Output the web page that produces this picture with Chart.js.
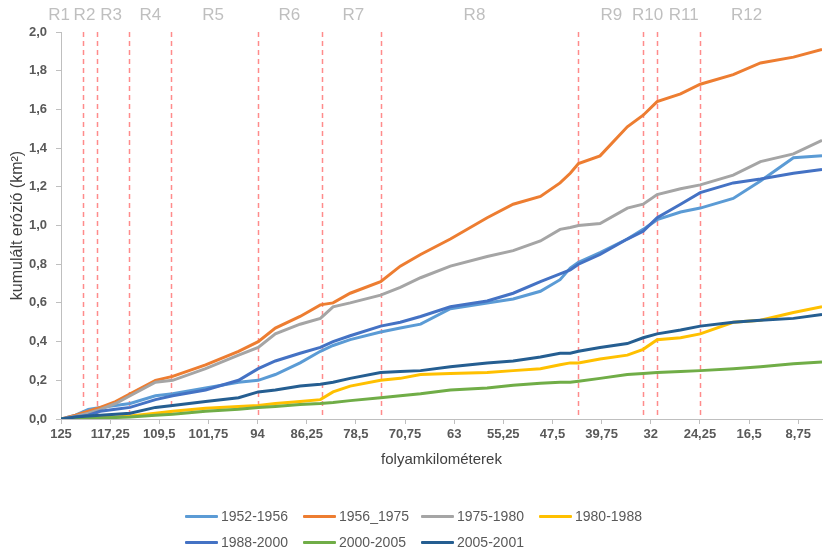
<!DOCTYPE html>
<html>
<head>
<meta charset="utf-8">
<script src="https://cdn.jsdelivr.net/npm/chart.js@4.4.1/dist/chart.umd.min.js"></script>
<style>
  body { margin: 0; background: #fff; }
  #wrap { position: relative; width: 823px; height: 553px; }
  #legend {
    position: absolute; left: 185px; top: 503px;
    display: grid; grid-template-columns: repeat(4, 118px); grid-auto-rows: 26px;
    font-family: 'Liberation Sans', Arial, sans-serif; font-size: 14px; color: #595959;
  }
  #legend .item { display: flex; align-items: center; white-space: nowrap; }
  #legend .swatch { width: 33px; height: 3px; margin-right: 3px; border-radius: 1px; }
</style>
</head>
<body>
<div id="wrap">
  <canvas id="chart" width="823" height="553"></canvas>
  <div id="legend"></div>
</div>
<script>
// folyamkilométer positions
const km = [125.0, 122.7, 120.7, 118.8, 116.4, 114.1, 110.1, 107.4, 102.2, 97.0,
            93.9, 91.2, 87.3, 84.1, 82.1, 79.4, 74.6, 71.5, 68.3, 63.6,
            57.8, 53.7, 49.4, 46.3, 44.7, 43.4, 40.0, 35.7, 33.2, 31.0,
            27.3, 24.2, 19.0, 14.7, 9.5, 5.0];

const s1952_1956 = [0, 0.02, 0.05, 0.06, 0.07, 0.08, 0.12, 0.13, 0.16, 0.19,
                    0.20, 0.23, 0.29, 0.35, 0.38, 0.41, 0.45, 0.47, 0.49, 0.57,
                    0.60, 0.62, 0.66, 0.72, 0.78, 0.81, 0.86, 0.93, 0.98, 1.03,
                    1.07, 1.09, 1.14, 1.23, 1.35, 1.36];
const s1956_1975 = [0, 0.02, 0.04, 0.06, 0.09, 0.13, 0.20, 0.22, 0.28, 0.35,
                    0.40, 0.47, 0.53, 0.59, 0.60, 0.65, 0.71, 0.79, 0.85, 0.93,
                    1.04, 1.11, 1.15, 1.22, 1.27, 1.32, 1.36, 1.51, 1.57, 1.64,
                    1.68, 1.73, 1.78, 1.84, 1.87, 1.91];
const s1975_1980 = [0, 0.015, 0.03, 0.05, 0.08, 0.12, 0.19, 0.20, 0.26, 0.33,
                    0.37, 0.44, 0.49, 0.52, 0.58, 0.60, 0.64, 0.68, 0.73, 0.79,
                    0.84, 0.87, 0.92, 0.98, 0.99, 1.00, 1.01, 1.09, 1.11, 1.16,
                    1.19, 1.21, 1.26, 1.33, 1.37, 1.44];
const s1980_1988 = [0, 0.005, 0.01, 0.01, 0.01, 0.015, 0.03, 0.04, 0.055, 0.065,
                    0.07, 0.08, 0.09, 0.10, 0.14, 0.17, 0.20, 0.21, 0.23, 0.235,
                    0.24, 0.25, 0.26, 0.28, 0.29, 0.29, 0.31, 0.33, 0.36, 0.41,
                    0.42, 0.44, 0.50, 0.51, 0.55, 0.58];
const s1988_2000 = [0, 0.01, 0.02, 0.04, 0.05, 0.06, 0.10, 0.12, 0.15, 0.20,
                    0.26, 0.30, 0.34, 0.37, 0.40, 0.43, 0.48, 0.50, 0.53, 0.58,
                    0.61, 0.65, 0.71, 0.75, 0.77, 0.80, 0.85, 0.93, 0.97, 1.04,
                    1.11, 1.17, 1.22, 1.24, 1.27, 1.29];
const s2000_2005 = [0, 0, 0.003, 0.005, 0.008, 0.01, 0.02, 0.025, 0.04, 0.05,
                    0.06, 0.065, 0.075, 0.08, 0.085, 0.095, 0.11, 0.12, 0.13, 0.15,
                    0.16, 0.175, 0.185, 0.19, 0.19, 0.195, 0.21, 0.23, 0.235, 0.24,
                    0.245, 0.25, 0.26, 0.27, 0.285, 0.295];
const s2005_2001 = [0, 0.01, 0.015, 0.02, 0.025, 0.03, 0.06, 0.07, 0.09, 0.11,
                    0.14, 0.15, 0.17, 0.18, 0.19, 0.21, 0.24, 0.245, 0.25, 0.27,
                    0.29, 0.30, 0.32, 0.34, 0.34, 0.35, 0.37, 0.39, 0.42, 0.44,
                    0.46, 0.48, 0.50, 0.51, 0.52, 0.54];

const seriesNames = ['1952-1956', '1956_1975', '1975-1980', '1980-1988', '1988-2000', '2000-2005', '2005-2001'];
const seriesValues = [s1952_1956, s1956_1975, s1975_1980, s1980_1988, s1988_2000, s2000_2005, s2005_2001];
const seriesColors = ['#5B9BD5', '#ED7D31', '#A5A5A5', '#FFC000', '#4472C4', '#70AD47', '#255E91'];

// x tick labels and section boundaries / labels
const xTicks = [125, 117.25, 109.5, 101.75, 94, 86.25, 78.5, 70.75, 63, 55.25, 47.5, 39.75, 32, 24.25, 16.5, 8.75];
const boundaries = [121.5, 119.3, 114.2, 107.6, 93.9, 83.8, 74.6, 43.4, 33.3, 31.0, 24.3];
const regionNames = ['R1', 'R2', 'R3', 'R4', 'R5', 'R6', 'R7', 'R8', 'R9', 'R10', 'R11', 'R12'];
const regionCenters = [125.3, 121.3, 117.1, 110.9, 101.0, 89.0, 78.9, 59.8, 38.2, 32.5, 26.8, 16.9];

Chart.defaults.font.family = "'Liberation Sans', Arial, sans-serif";
Chart.defaults.color = '#595959';

// dashed section lines + R labels
const regionsPlugin = {
  id: 'regions',
  beforeDatasetsDraw(chart) {
    const { ctx, chartArea, scales } = chart;
    ctx.save();
    ctx.strokeStyle = 'rgba(255, 110, 110, 0.8)';
    ctx.lineWidth = 1.5;
    ctx.setLineDash([5, 4]);
    boundaries.forEach(b => {
      const x = Math.round(scales.x.getPixelForValue(b)) + 0.5;
      ctx.beginPath();
      ctx.moveTo(x, chartArea.top);
      ctx.lineTo(x, chartArea.bottom);
      ctx.stroke();
    });
    ctx.restore();
  },
  afterDraw(chart) {
    const { ctx, chartArea, scales } = chart;
    ctx.save();
    ctx.fillStyle = '#BFBFBF';
    ctx.font = "17px 'Liberation Sans', Arial, sans-serif";
    ctx.textAlign = 'center';
    ctx.textBaseline = 'middle';
    regionNames.forEach((r, i) => {
      ctx.fillText(r, scales.x.getPixelForValue(regionCenters[i]), chartArea.top - 17);
    });
    ctx.restore();
  }
};

const datasets = seriesNames.map((name, i) => ({
  label: name,
  data: km.map((k, j) => ({ x: k, y: seriesValues[i][j] })),
  borderColor: seriesColors[i],
  backgroundColor: seriesColors[i],
  borderWidth: 3,
  pointRadius: 0,
  tension: 0,
  order: -i
}));

const chart = new Chart(document.getElementById('chart'), {
  type: 'line',
  data: { datasets: datasets },
  options: {
    responsive: false,
    animation: false,
    layout: { padding: { left: 1, right: 1, top: 32, bottom: 84 } },
    plugins: {
      legend: { display: false },
      tooltip: { enabled: false }
    },
    scales: {
      x: {
        type: 'linear',
        reverse: true,
        min: 5,
        max: 125,
        afterBuildTicks: scale => { scale.ticks = xTicks.map(v => ({ value: v })); },
        afterFit: scale => { scale.height = 50; },
        ticks: {
          autoSkip: false,
          maxRotation: 0,
          padding: 3,
          font: { size: 13, weight: 'bold' },
          color: '#595959',
          callback: v => String(v).replace('.', ',')
        },
        grid: { drawOnChartArea: false, drawTicks: true, tickLength: 5, color: '#BFBFBF' },
        border: { color: '#BFBFBF' },
        title: {
          display: true,
          text: 'folyamkilométerek',
          font: { size: 15 },
          color: '#404040',
          padding: { top: 9, bottom: 0 }
        }
      },
      y: {
        min: 0,
        max: 2,
        afterFit: scale => { scale.width = 60; },
        ticks: {
          stepSize: 0.2,
          padding: 9,
          font: { size: 13, weight: 'bold' },
          color: '#595959',
          callback: v => v.toFixed(1).replace('.', ',')
        },
        grid: { drawOnChartArea: false, drawTicks: true, tickLength: 5, color: '#BFBFBF' },
        border: { color: '#BFBFBF' },
        title: {
          display: true,
          text: 'kumulált erózió (km²)',
          font: { size: 16 },
          color: '#404040',
          padding: { top: 7, bottom: 0 }
        }
      }
    }
  },
  plugins: [regionsPlugin]
});

// legend laid out in the same 4-column grid as the original
const legendEl = document.getElementById('legend');
chart.data.datasets.forEach(ds => {
  const item = document.createElement('div');
  item.className = 'item';
  const sw = document.createElement('span');
  sw.className = 'swatch';
  sw.style.background = ds.borderColor;
  const txt = document.createElement('span');
  txt.textContent = ds.label;
  item.appendChild(sw);
  item.appendChild(txt);
  legendEl.appendChild(item);
});
</script>
</body>
</html>
